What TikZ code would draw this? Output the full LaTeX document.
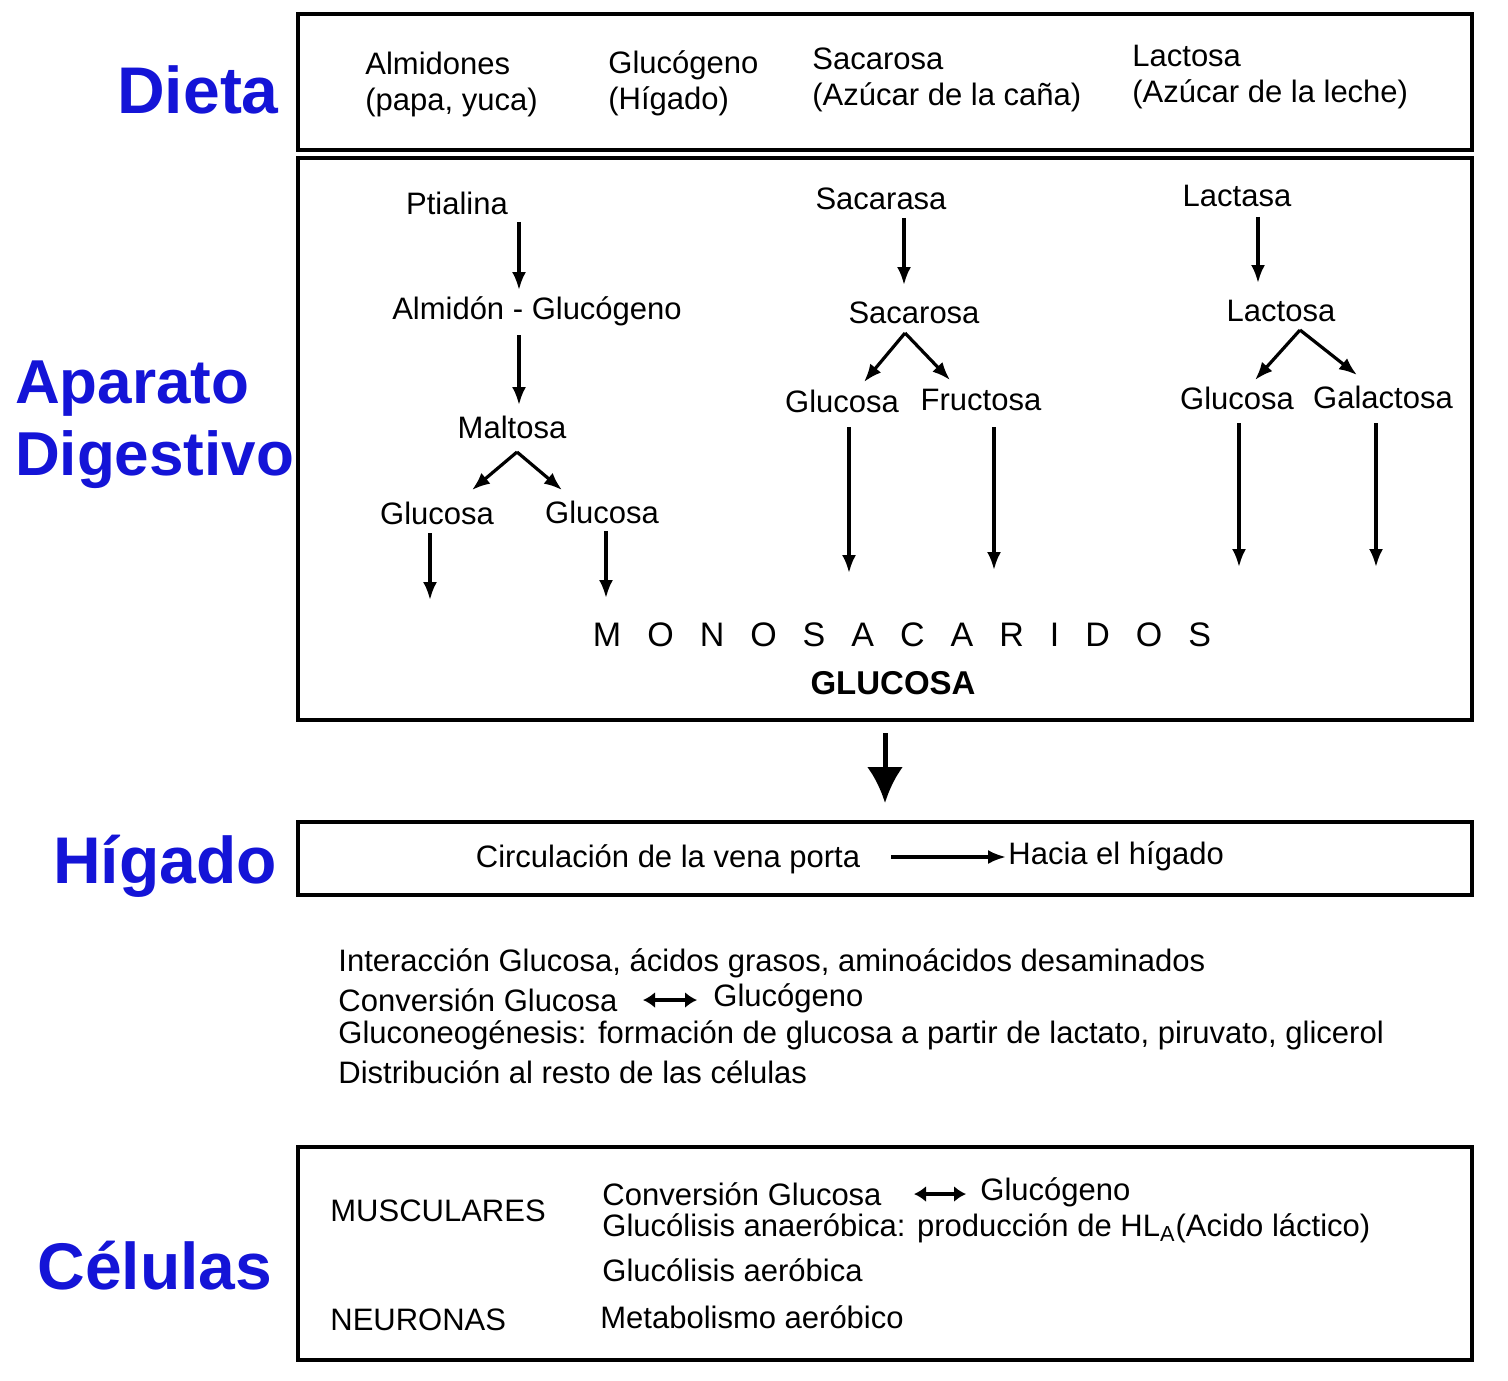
\documentclass[tikz,border=0pt]{standalone}
\usepackage{fontspec}
\setmainfont{Liberation Sans}
\usetikzlibrary{positioning,arrows.meta}
\definecolor{rotulo}{RGB}{20,20,215}
\tikzset{
  caja/.style={draw=black, line width=2pt},
  txt/.style={inner sep=1pt, font=\fontsize{15.5}{18}\selectfont},
  izq/.style={txt, anchor=west, align=left},
  rotulo/.style={text=rotulo, font=\fontsize{33}{38}\selectfont\bfseries, align=left},
  flecha/.style={-{Latex[length=9pt,width=7pt]}, line width=1.6pt, black},
  doble/.style={{Latex[length=6pt,width=8pt]}-{Latex[length=6pt,width=8pt]}, line width=2.4pt, black},
}
\begin{document}
\begin{tikzpicture}[x=0.5pt,y=0.5pt,yscale=-1,xscale=1]
\useasboundingbox (0,0) rectangle (1508,1380);

%%%%%%%%%%%%%%%%%%%%%%%%%%%%%%%%%%%%%%%%%%%%%%%%%%%%%%%%%%%%%%%%%%%%%%%%

\draw [caja] (298, 14) rectangle (1472, 150);
\node [rotulo] (dieta) at (198, 90) {Dieta};
\node [izq] (almidones) at (363, 84) {Almidones\\(papa, yuca)};
\node [izq] (glucogenoD) at (606, 83) {Glucógeno\\(Hígado)};
\node [izq] (sacarosaD) at (810, 80) {Sacarosa\\(Azúcar de la caña)};
\node [izq] (lactosaD) at (1130, 77) {Lactosa\\(Azúcar de la leche)};

%%%%%%%%%%%%%%%%%%%%%%%%%%%%%%%%%%%%%%%%%%%%%%%%%%%%%%%%%%%%%%%%%%%%%%%%

\draw [caja] (298, 158) rectangle (1472, 720);
\node [rotulo, anchor=west, font=\fontsize{31}{36}\selectfont\bfseries] (aparato) at (8, 425) {Aparato\\Digestivo};

\node [txt] (ptialina) at (457, 203) {Ptialina};
\node [txt] (almidon) at (537, 311) {Almidón - Glucógeno};
\node [txt] (maltosa) at (512, 427) {Maltosa};
\node [txt] (glucosa1) at (437, 513) {Glucosa};
\node [txt] (glucosa2) at (602, 512) {Glucosa};
\draw [flecha] (519, 222) -- (519, 290);
\draw [flecha] (519, 335) -- (519, 405);
\draw [flecha] (517, 452) -- (472, 490);
\draw [flecha] (517, 452) -- (562, 490);
\draw [flecha] (430, 533) -- (430, 600);
\draw [flecha] (606, 531) -- (606, 598);

\node [txt] (sacarasa) at (881, 199) {Sacarasa};
\node [txt] (sacarosa) at (914, 313) {Sacarosa};
\node [txt] (glucosa3) at (842, 401) {Glucosa};
\node [txt] (fructosa) at (981, 400) {Fructosa};
\draw [flecha] (904, 218) -- (904, 285);
\draw [flecha] (905, 333) -- (864, 382);
\draw [flecha] (905, 333) -- (950, 380);
\draw [flecha] (849, 427) -- (849, 573);
\draw [flecha] (994, 427) -- (994, 570);

\node [txt] (lactasa) at (1237, 196) {Lactasa};
\node [txt] (lactosa) at (1281, 311) {Lactosa};
\node [txt] (glucosa4) at (1237, 398) {Glucosa};
\node [txt] (galactosa) at (1383, 397) {Galactosa};
\draw [flecha] (1258, 217) -- (1258, 283);
\draw [flecha] (1300, 330) -- (1255, 380);
\draw [flecha] (1300, 330) -- (1357, 375);
\draw [flecha] (1239, 423) -- (1239, 567);
\draw [flecha] (1376, 423) -- (1376, 567);

\node [txt, font=\fontsize{17}{20}\selectfont] (mono) at (902, 635)
  {M\hspace{13pt}O\hspace{13pt}N\hspace{13pt}O\hspace{13pt}S\hspace{13pt}A\hspace{13pt}C\hspace{13pt}A\hspace{13pt}R\hspace{13pt}I\hspace{13pt}D\hspace{13pt}O\hspace{13pt}S};
\node [txt, font=\fontsize{16.5}{19}\selectfont\bfseries] (glucosaM) at (893, 683) {GLUCOSA};

\draw [-{Latex[length=18pt,width=18pt]}, line width=2.5pt] (885, 733) -- (885, 803);

%%%%%%%%%%%%%%%%%%%%%%%%%%%%%%%%%%%%%%%%%%%%%%%%%%%%%%%%%%%%%%%%%%%%%%%%

\draw [caja] (298, 822) rectangle (1472, 895);
\node [rotulo] (higado) at (165, 866) {Hígado};
\node [txt] (circulacion) at (668, 859) {Circulación de la vena porta};
\node [izq] (hacia) at (1006, 856) {Hacia el hígado};
\coordinate (porta) at (891, 857);
\draw [flecha] (porta) -- (porta -| hacia.west);

\node [izq] (linea1) at (336, 963) {Interacción Glucosa, ácidos grasos, aminoácidos desaminados};
\node [izq] (linea2) at (336, 1000) {Conversión Glucosa};
\node [izq] (linea2b) at (711, 998) {Glucógeno};
\draw [doble] (643, 1000) -- (697, 1000);
\node [izq] (linea3) at (336, 1035) {Gluconeogénesis: formación de glucosa a partir de lactato, piruvato, glicerol};
\node [izq] (linea4) at (336, 1072) {Distribución al resto de las células};

%%%%%%%%%%%%%%%%%%%%%%%%%%%%%%%%%%%%%%%%%%%%%%%%%%%%%%%%%%%%%%%%%%%%%%%%

\draw [caja] (298, 1147) rectangle (1472, 1360);
\node [rotulo] (celulas) at (155, 1266) {Células};
\node [izq] (musculares) at (328, 1211) {MUSCULARES};
\node [izq] (neuronas) at (328, 1320) {NEURONAS};
\node [izq] (conv) at (600, 1194) {Conversión Glucosa};
\node [izq] (convb) at (978, 1192) {Glucógeno};
\draw [doble] (914, 1194) -- (966, 1194);
\node [izq] (anaer) at (600, 1228) {Glucólisis anaeróbica: producción de HL\textsubscript{A}(Acido láctico)};
\node [izq] (aer) at (600, 1270) {Glucólisis aeróbica};
\node [izq] (metab) at (598, 1317) {Metabolismo aeróbico};

%%%%%%%%%%%%%%%%%%%%%%%%%%%%%%%%%%%%%%%%%%%%%%%%%%%%%%%%%%%%%%%%%%%%%%%%

\end{tikzpicture}
\end{document}
